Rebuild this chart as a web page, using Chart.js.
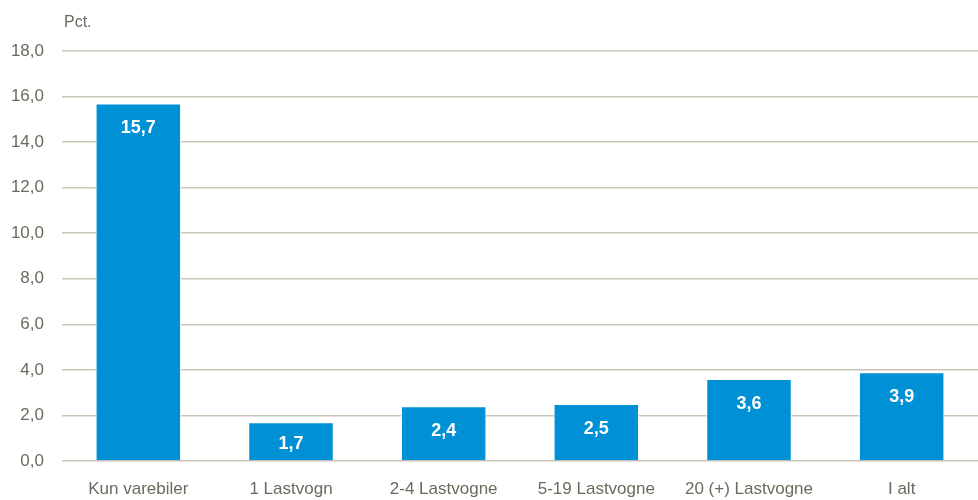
<!DOCTYPE html>
<html>
<head>
<meta charset="utf-8">
<script src="https://cdn.jsdelivr.net/npm/chart.js@4"></script>
<style>
  body { margin: 0; background: #fff; }
  #wrap { width: 978px; height: 500px; }
</style>
</head>
<body>
<div id="wrap"><canvas id="myChart"></canvas></div>
<script>
"use strict";

const categories = ["Kun varebiler", "1 Lastvogn", "2-4 Lastvogne", "5-19 Lastvogne", "20 (+) Lastvogne", "I alt"];
const values = [15.7, 1.7, 2.4, 2.5, 3.6, 3.9];
const yTicks = [0, 2, 4, 6, 8, 10, 12, 14, 16, 18];

const fontFamily = "'Liberation Sans Narrow', 'Arial Narrow', 'Liberation Sans', Arial, sans-serif";
const textColor = "#6b6a5c";

function fmt(v) {
	return v.toFixed(1).replace(".", ",");
}

const labelPlugin = {
	id: "barLabels",
	afterDatasetsDraw(chart) {
		const ctx = chart.ctx;
		const meta = chart.getDatasetMeta(0);
		ctx.save();
		ctx.fillStyle = "#ffffff";
		ctx.font = "bold 18px " + fontFamily;
		ctx.textAlign = "center";
		ctx.textBaseline = "middle";
		meta.data.forEach(function (bar, i) {
			const h = bar.base - bar.y;
			const off = Math.min(25, h - 16);
			ctx.fillText(fmt(values[i]), bar.x, bar.y + off);
		});
		ctx.font = "16px " + fontFamily;
		ctx.fillStyle = textColor;
		ctx.textAlign = "left";
		ctx.fillText("Pct.", chart.chartArea.left + 2, chart.chartArea.top - 28);
		ctx.restore();
	}
};

function generateChart() {
	const ctx = document.getElementById("myChart");

	new Chart(ctx, {
		type: "bar",
		data: {
			labels: categories,
			datasets: [
				{
					data: values,
					backgroundColor: "#0090d6",
					borderColor: "#ffffff",
					borderWidth: 1,
					categoryPercentage: 1,
					barPercentage: 0.56,
				},
			],
		},
		options: {
			responsive: true,
			maintainAspectRatio: false,
			animation: false,
			layout: { padding: { top: 51, right: 0, left: 0, bottom: 0 } },
			plugins: {
				legend: { display: false },
				tooltip: { enabled: false },
			},
			scales: {
				x: {
					grid: { display: false },
					border: { display: false },
					afterFit: function (axis) {
						axis.height = 39;
					},
					ticks: {
						color: textColor,
						font: { family: fontFamily, size: 17 },
						padding: 10,
						maxRotation: 0,
					},
				},
				y: {
					min: 0,
					max: 18,
					afterBuildTicks: function (axis) {
						axis.ticks = yTicks.map(function (v) { return { value: v }; });
					},
					afterFit: function (axis) {
						axis.width = 62;
					},
					grid: {
						color: "#c9c6b8",
						lineWidth: 1.5,
						drawTicks: false,
					},
					border: { display: false },
					ticks: {
						color: textColor,
						font: { family: fontFamily, size: 17 },
						padding: 18,
						callback: function (v) { return fmt(v); },
					},
				},
			},
		},
		plugins: [labelPlugin],
	});
}

generateChart();
</script>
</body>
</html>
